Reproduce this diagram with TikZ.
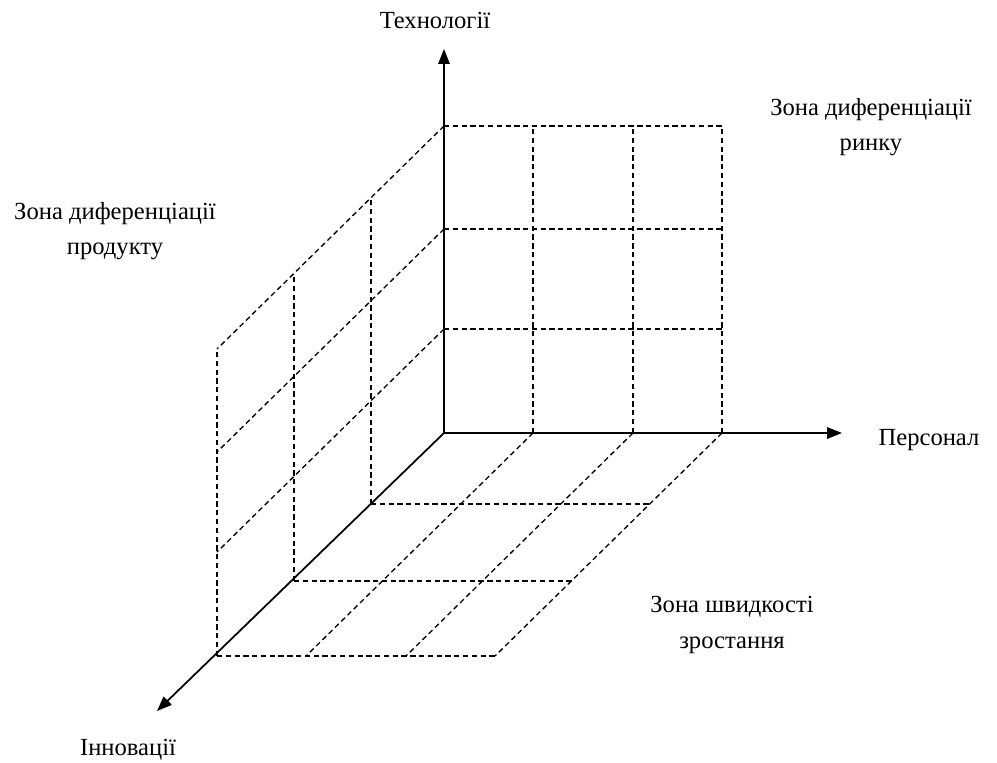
\documentclass[tikz,border=0pt]{standalone}
\usepackage{fontspec}
\setmainfont{Liberation Serif}
\usetikzlibrary{arrows.meta,calc}
\begin{document}
\begin{tikzpicture}[x=0.02cm,y=-0.02cm,
  axis/.style={line width=1pt,-{Triangle[length=8.5pt,width=6.5pt]}},
  gridline/.style={line width=0.75pt,dash pattern=on 3pt off 2pt},
  lbl/.style={font=\fontsize{14}{20}\selectfont,align=center,inner sep=0pt}]
\useasboundingbox (0,0) rectangle (997,762);
\coordinate (O) at (444,433);
\coordinate (Tz) at (444,49);
\coordinate (Tx) at (842,433);
\coordinate (Td) at (157,711);
\coordinate (X1) at (533,433);
\coordinate (X2) at (633,433);
\coordinate (X3) at (722,433);
\coordinate (Z1) at (444,329);
\coordinate (Z2) at (444,229);
\coordinate (Z3) at (444,126);
\coordinate (D1) at (371,504);
\coordinate (D2) at (294,581);
\coordinate (D3) at (217,656);
\foreach \i in {1,2,3}{
  % vertical plane (personnel - technology)
  \draw[gridline] (Z\i) -- (Z\i -| X3);
  \draw[gridline] (X\i) -- (X\i |- Z3);
  % floor (personnel - innovation)
  \draw[gridline] (D\i) -- ($(D\i)+(X3)-(O)$);
  \draw[gridline] (X\i) -- ($(X\i)+(D3)-(O)$);
  % side plane (innovation - technology)
  \draw[gridline] (D\i) -- ($(D\i)+(Z3)-(O)$);
  \draw[gridline] (Z\i) -- ($(Z\i)+(D3)-(O)$);
}
\draw[axis] (O) -- (Tz);
\draw[axis] (O) -- (Tx);
\draw[axis] (O) -- (Td);
\node[lbl] (tech) at (435,20) {Технології};
\node[lbl] (pers) at (929,440) {Персонал};
\node[lbl] (inn) at (128,750) {Інновації};
\node[lbl] (zr) at (871,127) {Зона диференціації\\ринку};
\node[lbl] (zp) at (115,231) {Зона диференціації\\продукту};
\node[lbl] (zs) at (732,625) {Зона швидкості\\зростання};
\end{tikzpicture}
\end{document}
